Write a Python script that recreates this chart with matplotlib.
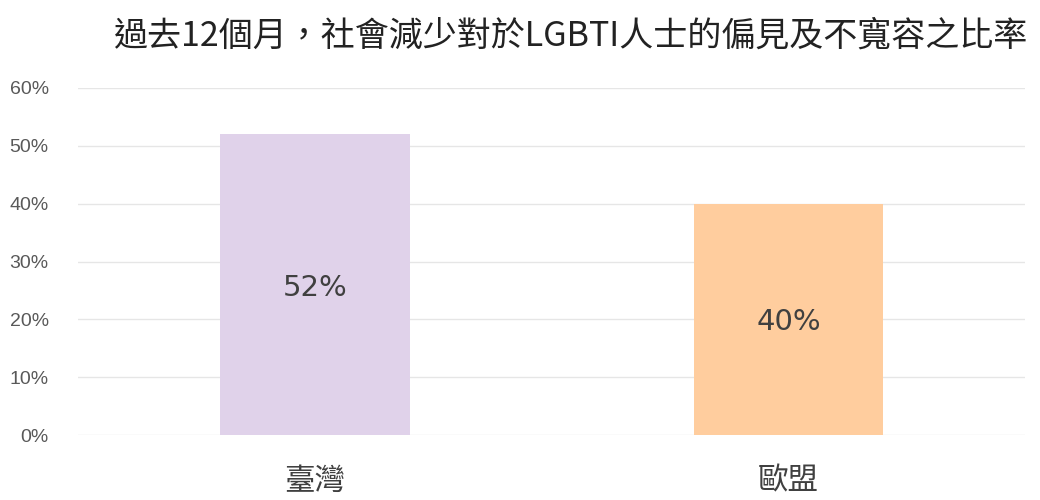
import matplotlib.pyplot as plt
from matplotlib.ticker import PercentFormatter

plt.rcParams['font.family'] = ['Noto Sans CJK TC', 'DejaVu Sans']

regions = ["臺灣", "歐盟"]
rates = [52, 40]
bar_colors = ["#E0D2EA", "#FFCD9E"]
yticks = [0, 10, 20, 30, 40, 50, 60]
title = "過去12個月，社會減少對於LGBTI人士的偏見及不寬容之比率"

fig = plt.figure(figsize=(10.4, 5), dpi=100)
ax = fig.add_axes([0.075, 0.13, 0.911, 0.694])

x = range(len(regions))
bars = ax.bar(x, rates, width=0.4, color=bar_colors, zorder=2)
for b, v in zip(bars, rates):
    ax.text(b.get_x() + b.get_width() / 2, v / 2, f"{v}%", ha="center", va="center_baseline",
            fontsize=21, color="#404040", family="DejaVu Sans")

ax.set_xlim(-0.5, 1.5)
ax.set_ylim(0, 60)
ax.set_yticks(yticks)
ax.yaxis.set_major_formatter(PercentFormatter(decimals=0))
ax.set_xticks(list(x))
ax.set_xticklabels(regions, fontsize=22, color="#404040")
ax.tick_params(axis="x", length=0, pad=22)
ax.tick_params(axis="y", length=0, pad=21, labelsize=14, labelcolor="#595959")
for t in ax.get_yticklabels():
    t.set_family("Liberation Sans")
ax.grid(axis="y", color="#E6E6E6", linewidth=1, zorder=0)
for s in ax.spines.values():
    s.set_visible(False)

fig.text(0.549, 0.927, title, ha="center", va="center", fontsize=24.5, color="#222222")

fig.savefig("out.png", dpi=100)
